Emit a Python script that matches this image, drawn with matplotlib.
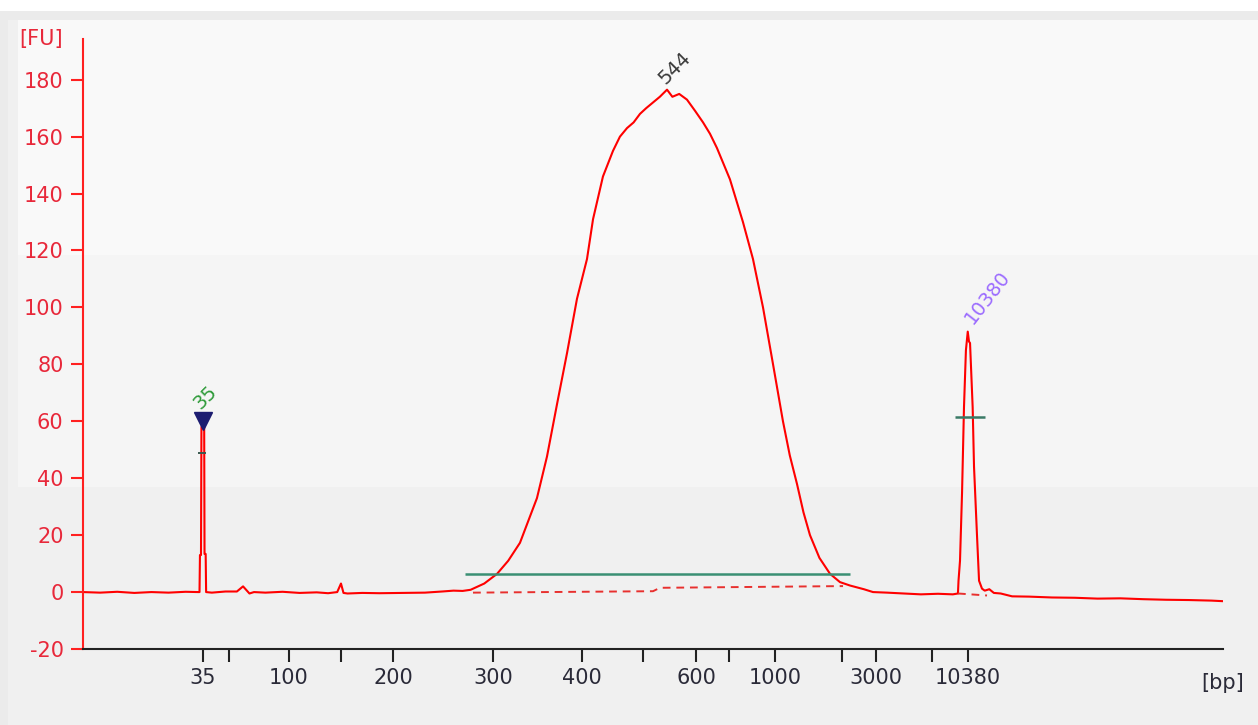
import matplotlib.pyplot as plt
from matplotlib.patches import Rectangle

plt.rcParams["axes.unicode_minus"] = False

# Electropherogram trace: migration time (s) vs fluorescence (FU)
trace_time = [
    20.0, 21.5, 23.0, 24.5, 26.0, 27.5, 29.0, 30.1,
    30.22, 30.26, 30.35, 30.39, 30.52, 30.63, 30.66, 30.76, 30.80,
    31.3, 32.5, 33.5, 34.04, 34.6, 35.0, 36.0, 37.5, 39.0, 40.5, 41.5,
    42.3, 42.63, 42.85, 43.2, 44.5, 46.0, 48.0, 50.0, 51.5, 52.5,
    53.3, 54.0, 55.2, 56.32, 57.3, 58.33, 59.82, 60.70, 61.58, 62.46,
    63.33, 64.21, 64.74, 65.61, 66.49, 67.1, 67.72, 68.3, 68.86, 69.4,
    70.0, 70.6, 71.23, 71.7, 72.3, 72.98, 73.7, 74.39, 75.0, 75.61,
    76.75, 77.89, 78.77, 79.65, 80.53, 81.40, 82.0, 82.63, 83.2, 83.77,
    84.6, 85.53, 86.4, 87.28, 88.5, 89.3, 90.53, 92.0, 93.5, 95.0,
    96.3, 96.75,
    96.80, 96.93, 97.11, 97.28, 97.45, 97.61, 97.72, 97.81, 98.04,
    98.16, 98.42, 98.60, 98.86,
    99.1, 99.5, 99.9, 100.5, 101.5, 103.0, 105.0, 107.0, 109.0, 111.0,
    113.0, 115.0, 117.0, 119.0, 120.0,
]
trace_fu = [
    0.0, -0.2, 0.1, -0.3, 0.0, -0.2, 0.1, 0.0,
    0.0, 13.0, 13.0, 58.0, 59.0, 58.0, 13.4, 13.4, 0.0,
    -0.2, 0.2, 0.2, 2.0, -0.5, 0.0, -0.2, 0.1, -0.3, -0.1, -0.4,
    0.0, 3.0, -0.3, -0.5, -0.3, -0.4, -0.3, -0.2, 0.2, 0.5,
    0.4, 0.8, 3.0, 6.4, 11.0, 17.3, 33.0, 47.6, 66.0, 84.0,
    103.0, 117.0, 131.0, 146.0, 155.0, 160.0, 163.0, 165.0, 168.0, 170.0,
    172.0, 174.0, 176.5, 174.0, 175.0, 173.0, 169.0, 165.0, 161.0, 156.0,
    145.0, 130.0, 117.0, 100.0, 80.0, 60.0, 48.0, 38.0, 28.0, 20.0,
    12.0, 6.4, 3.5, 2.3, 1.0, 0.0, -0.2, -0.5, -0.8, -0.6,
    -0.8, -0.5,
    4.0, 11.0, 35.0, 65.0, 85.0, 91.5, 88.0, 87.5, 65.0,
    44.0, 20.0, 4.0, 1.2,
    0.5, 1.0, -0.3, -0.5, -1.5, -1.6, -1.9, -2.0, -2.3, -2.2,
    -2.5, -2.7, -2.8, -3.0, -3.2,
]

# ladder sizes and their migration times (x ticks)
ladder_time = [30.53, 32.81, 38.07, 42.63, 47.19, 55.96, 63.77, 69.12,
               73.77, 76.67, 80.70, 86.58, 89.56, 94.47, 97.63]
ladder_bp = [35, 50, 100, 150, 200, 300, 400, 500, 600, 700, 1000,
             2000, 3000, 7000, 10380]
ladder_shown = [True, False, True, False, True, True, True, False,
                True, False, True, False, True, False, True]

# smear region (main peak) and its baseline
region_time = [53.51, 87.28]
region_level = 6.4
base_time = [54.21, 70.0, 70.61, 86.67]
base_fu = [-0.2, 0.3, 1.5, 2.1]
upper_base_time = [96.75, 99.30]
upper_base_fu = [-0.5, -1.2]

# marker peaks
lower_marker = (30.53, 60.0)
lower_width = ([30.09, 30.79], 48.7)
upper_width = ([96.49, 99.12], 61.4)

# peak labels: (text, time, FU, colour, rotation)
peak_labels = [
    ("35", 30.70, 68.5, "#2f9b3a", 45),
    ("544", 71.93, 184.2, "#3a3a3a", 45),
    ("10380", 99.30, 103.7, "#9b6bff", 52),
]

W, H = 1258, 725
fig = plt.figure(figsize=(W / 100, H / 100), dpi=100)
fig.patch.set_facecolor("#ebebeb")


def px_rect(x0, y0, x1, y1, color):
    fig.patches.append(Rectangle((x0 / W, 1 - y1 / H), (x1 - x0) / W,
                                 (y1 - y0) / H, transform=fig.transFigure,
                                 facecolor=color, edgecolor="none", zorder=-10))


px_rect(0, 0, W, 11, "white")
px_rect(8, 20, W, H, "#f0f0f0")
px_rect(18, 20, W, 255, "#f9f9f9")
px_rect(18, 255, W, 487, "#f5f5f5")

ax = fig.add_axes([83 / W, 76 / H, 1140 / W, 610 / H])
ax.set_facecolor("none")
ax.set_xlim(20, 120)
ax.set_ylim(-20, 194.3)

ax.plot(trace_time, trace_fu, color="#ff0000", lw=1.5)
ax.hlines(region_level, region_time[0], region_time[1], color="#3a8f73", lw=1.8)
ax.plot(base_time, base_fu, color="#e8302e", lw=1.4, ls=(0, (4, 3)))
ax.plot(upper_base_time, upper_base_fu, color="#e8302e", lw=1.4, ls=(0, (4, 3)))
ax.hlines(upper_width[1], upper_width[0][0], upper_width[0][1], color="#3a7a66", lw=1.8)
ax.hlines(lower_width[1], lower_width[0][0], lower_width[0][1], color="#3a5a50", lw=1.4)
ax.plot([lower_marker[0]], [lower_marker[1]], marker="v", ms=13,
        color="#1c1c70", zorder=5)

for txt, t, fu, col, rot in peak_labels:
    ax.text(t, fu, txt, color=col, rotation=rot, fontsize=14,
            ha="center", va="center")

for s in ["top", "right"]:
    ax.spines[s].set_visible(False)
ax.spines["left"].set_color("#ff2020")
ax.spines["left"].set_linewidth(1.5)
ax.spines["bottom"].set_color("#222222")
ax.spines["bottom"].set_linewidth(1.5)

ax.set_yticks(range(-20, 181, 20))
ax.tick_params(axis="y", colors="#ff2020", labelcolor="#e8283a",
               length=9, width=1.5, labelsize=15, pad=5)
ax.set_xticks(ladder_time)
ax.set_xticklabels([str(b) if s else "" for b, s in zip(ladder_bp, ladder_shown)])
ax.tick_params(axis="x", colors="#222222", labelcolor="#2a2a38",
               length=9, width=1.5, labelsize=15, pad=5)

fig.text(41 / W, 1 - 39 / H, "[FU]", color="#e8283a", fontsize=15,
         ha="center", va="center")
fig.text(1223 / W, 1 - 683 / H, "[bp]", color="#2a2a38", fontsize=15,
         ha="center", va="center")

fig.savefig("out.png", dpi=100, facecolor=fig.get_facecolor())
